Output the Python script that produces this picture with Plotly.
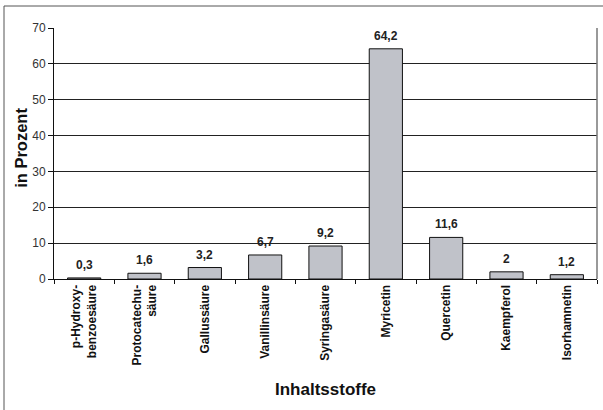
import plotly.graph_objects as go

categories = ["p-Hydroxy-<br>benzoesäure", "Protocatechu-<br>säure", "Gallussäure",
              "Vanillinsäure", "Syringasäure", "Myricetin", "Quercetin",
              "Kaempferol", "Isorhamnetin"]
values = [0.3, 1.6, 3.2, 6.7, 9.2, 64.2, 11.6, 2, 1.2]
labels = [("%g" % v).replace(".", ",") for v in values]
y_ticks = [0, 10, 20, 30, 40, 50, 60, 70]

FONT = "Liberation Sans, Arial, sans-serif"

fig = go.Figure(go.Bar(
    x=categories, y=values,
    marker=dict(color="#c0c2c9", line=dict(color="#111", width=1)),
    cliponaxis=False,
))

value_annotations = [
    dict(x=c, y=v, text="<b>%s</b>" % t, xref="x", yref="y", showarrow=False,
         yanchor="bottom", yshift=4,
         font=dict(family=FONT, size=12, color="#222"))
    for c, v, t in zip(categories, values, labels)
]

fig.update_layout(
    width=603, height=410,
    margin=dict(l=54, r=6, t=28, b=131),
    paper_bgcolor="white", plot_bgcolor="white",
    bargap=0.45,
    showlegend=False,
    font=dict(family=FONT),
    xaxis=dict(
        tickangle=-90, tickfont=dict(family=FONT, size=12, color="#111", weight="bold"),
        showline=True, linecolor="#111", linewidth=1,
        ticks="outside", ticklen=4, tickcolor="#111", tickson="boundaries",
        showgrid=False,
    ),
    yaxis=dict(
        range=[0, 70], tickvals=y_ticks,
        tickfont=dict(family=FONT, size=12, color="#333"),
        showline=True, linecolor="#111", linewidth=1,
        ticks="outside", ticklen=5, tickcolor="#111",
        showgrid=True, gridcolor="#222", gridwidth=1,
        zeroline=False,
    ),
    annotations=value_annotations + [
        dict(text="<b>Inhaltsstoffe</b>", xref="paper", yref="paper",
             x=0.5, y=-0.442, showarrow=False, yanchor="middle",
             font=dict(family=FONT, size=17, color="#111")),
        dict(text="<b>in Prozent</b>", xref="paper", yref="paper",
             x=-0.061, y=0.522, textangle=-90, showarrow=False,
             xanchor="center", yanchor="middle",
             font=dict(family=FONT, size=16.5, color="#111")),
    ],
    shapes=[
        dict(type="line", xref="paper", yref="paper", x0=1, x1=1, y0=0, y1=1,
             line=dict(color="#777", width=1.5)),
        dict(type="rect", xref="paper", yref="paper",
             x0=(4 - 54) / 543, x1=1.05, y0=(279 - 6) / 251, y1=-0.6,
             line=dict(color="#555", width=1), layer="below"),
    ],
)

fig.write_html("out.html", config={"displayModeBar": False},
               post_script="document.body.style.margin='0';")
